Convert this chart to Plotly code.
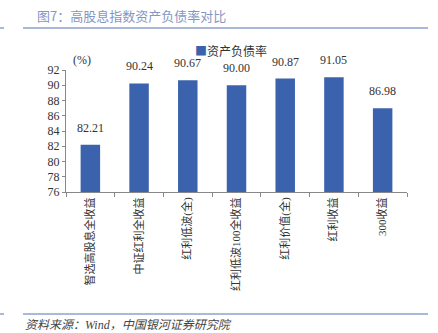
import plotly.graph_objects as go

categories = ["智选高股息全收益", "中证红利全收益", "红利低波(全)", "红利低波100全收益", "红利价值(全)", "红利收益", "300收益"]
values = [82.21, 90.24, 90.67, 90.00, 90.87, 91.05, 86.98]
value_labels = ["82.21", "90.24", "90.67", "90.00", "90.87", "91.05", "86.98"]
y_ticks = [76, 78, 80, 82, 84, 86, 88, 90, 92]
series_name = "资产负债率"

FONT = "Liberation Serif, Noto Sans CJK SC, serif"
BAR = "#3b63ad"
TXT = "#333333"
LINE = "#8fa2cc"

fig = go.Figure()
fig.add_trace(go.Bar(
    x=categories, y=values, name=series_name,
    marker=dict(color=BAR, line=dict(width=0)),
    width=0.4, showlegend=False,
))
for c, v, t in zip(categories, values, value_labels):
    fig.add_annotation(x=c, y=v, text=t, showarrow=False, yanchor="bottom", yshift=8,
                       font=dict(family=FONT, size=12, color=TXT))

fig.update_layout(
    width=438, height=333,
    margin=dict(l=66, r=31, t=70, b=141),
    paper_bgcolor="white", plot_bgcolor="white",
    font=dict(family=FONT, size=12, color=TXT),
)
fig.update_xaxes(
    showline=True, linecolor="#888888", linewidth=1,
    ticks="outside", ticklen=4, tickcolor="#888888", tickson="boundaries",
    tickangle=-90, tickfont=dict(family=FONT, size=11, color=TXT),
    showgrid=False,
)
fig.update_yaxes(
    range=[76, 92], tickvals=y_ticks, ticktext=[str(v) for v in y_ticks],
    showline=True, linecolor="#888888", linewidth=1,
    ticks="outside", ticklen=3, tickcolor="#888888",
    tickfont=dict(family=FONT, size=12, color=TXT),
    showgrid=False, zeroline=False,
)

def px_x(x):
    return (x - 66) / 341

def px_y(y):
    return (192 - y) / 122

# legend (manual)
fig.add_annotation(xref="paper", yref="paper", x=px_x(193), y=px_y(51),
                   text=f"<span style='color:{BAR}'>■</span>{series_name}",
                   showarrow=False, xanchor="left", yanchor="middle",
                   font=dict(family="Noto Sans CJK SC", size=12, color=TXT))

# title and decorations
fig.add_annotation(xref="paper", yref="paper", x=px_x(35), y=px_y(15), text="图7：高股息指数资产负债率对比",
                   showarrow=False, xanchor="left", yanchor="middle",
                   font=dict(family="Noto Sans CJK SC", size=13, color="#8497c4"))
fig.add_annotation(xref="paper", yref="paper", x=px_x(82), y=px_y(60), text="(%)",
                   showarrow=False, xanchor="center", yanchor="middle",
                   font=dict(family=FONT, size=12, color=TXT))
fig.add_annotation(xref="paper", yref="paper", x=px_x(23), y=px_y(325), text="<i>资料来源：Wind，中国银河证券研究院</i>",
                   showarrow=False, xanchor="left", yanchor="middle",
                   font=dict(family=FONT, size=12, color="#444444"))

def hline(y_px, x0, x1):
    fig.add_shape(type="line", xref="paper", yref="paper",
                  x0=px_x(x0), x1=px_x(x1), y0=px_y(y_px), y1=px_y(y_px),
                  line=dict(color=LINE, width=1.5))

hline(28, 23, 428)
hline(28, 0, 4)
hline(314, 23, 428)
hline(314, 0, 4)

fig.write_html("out.html")
